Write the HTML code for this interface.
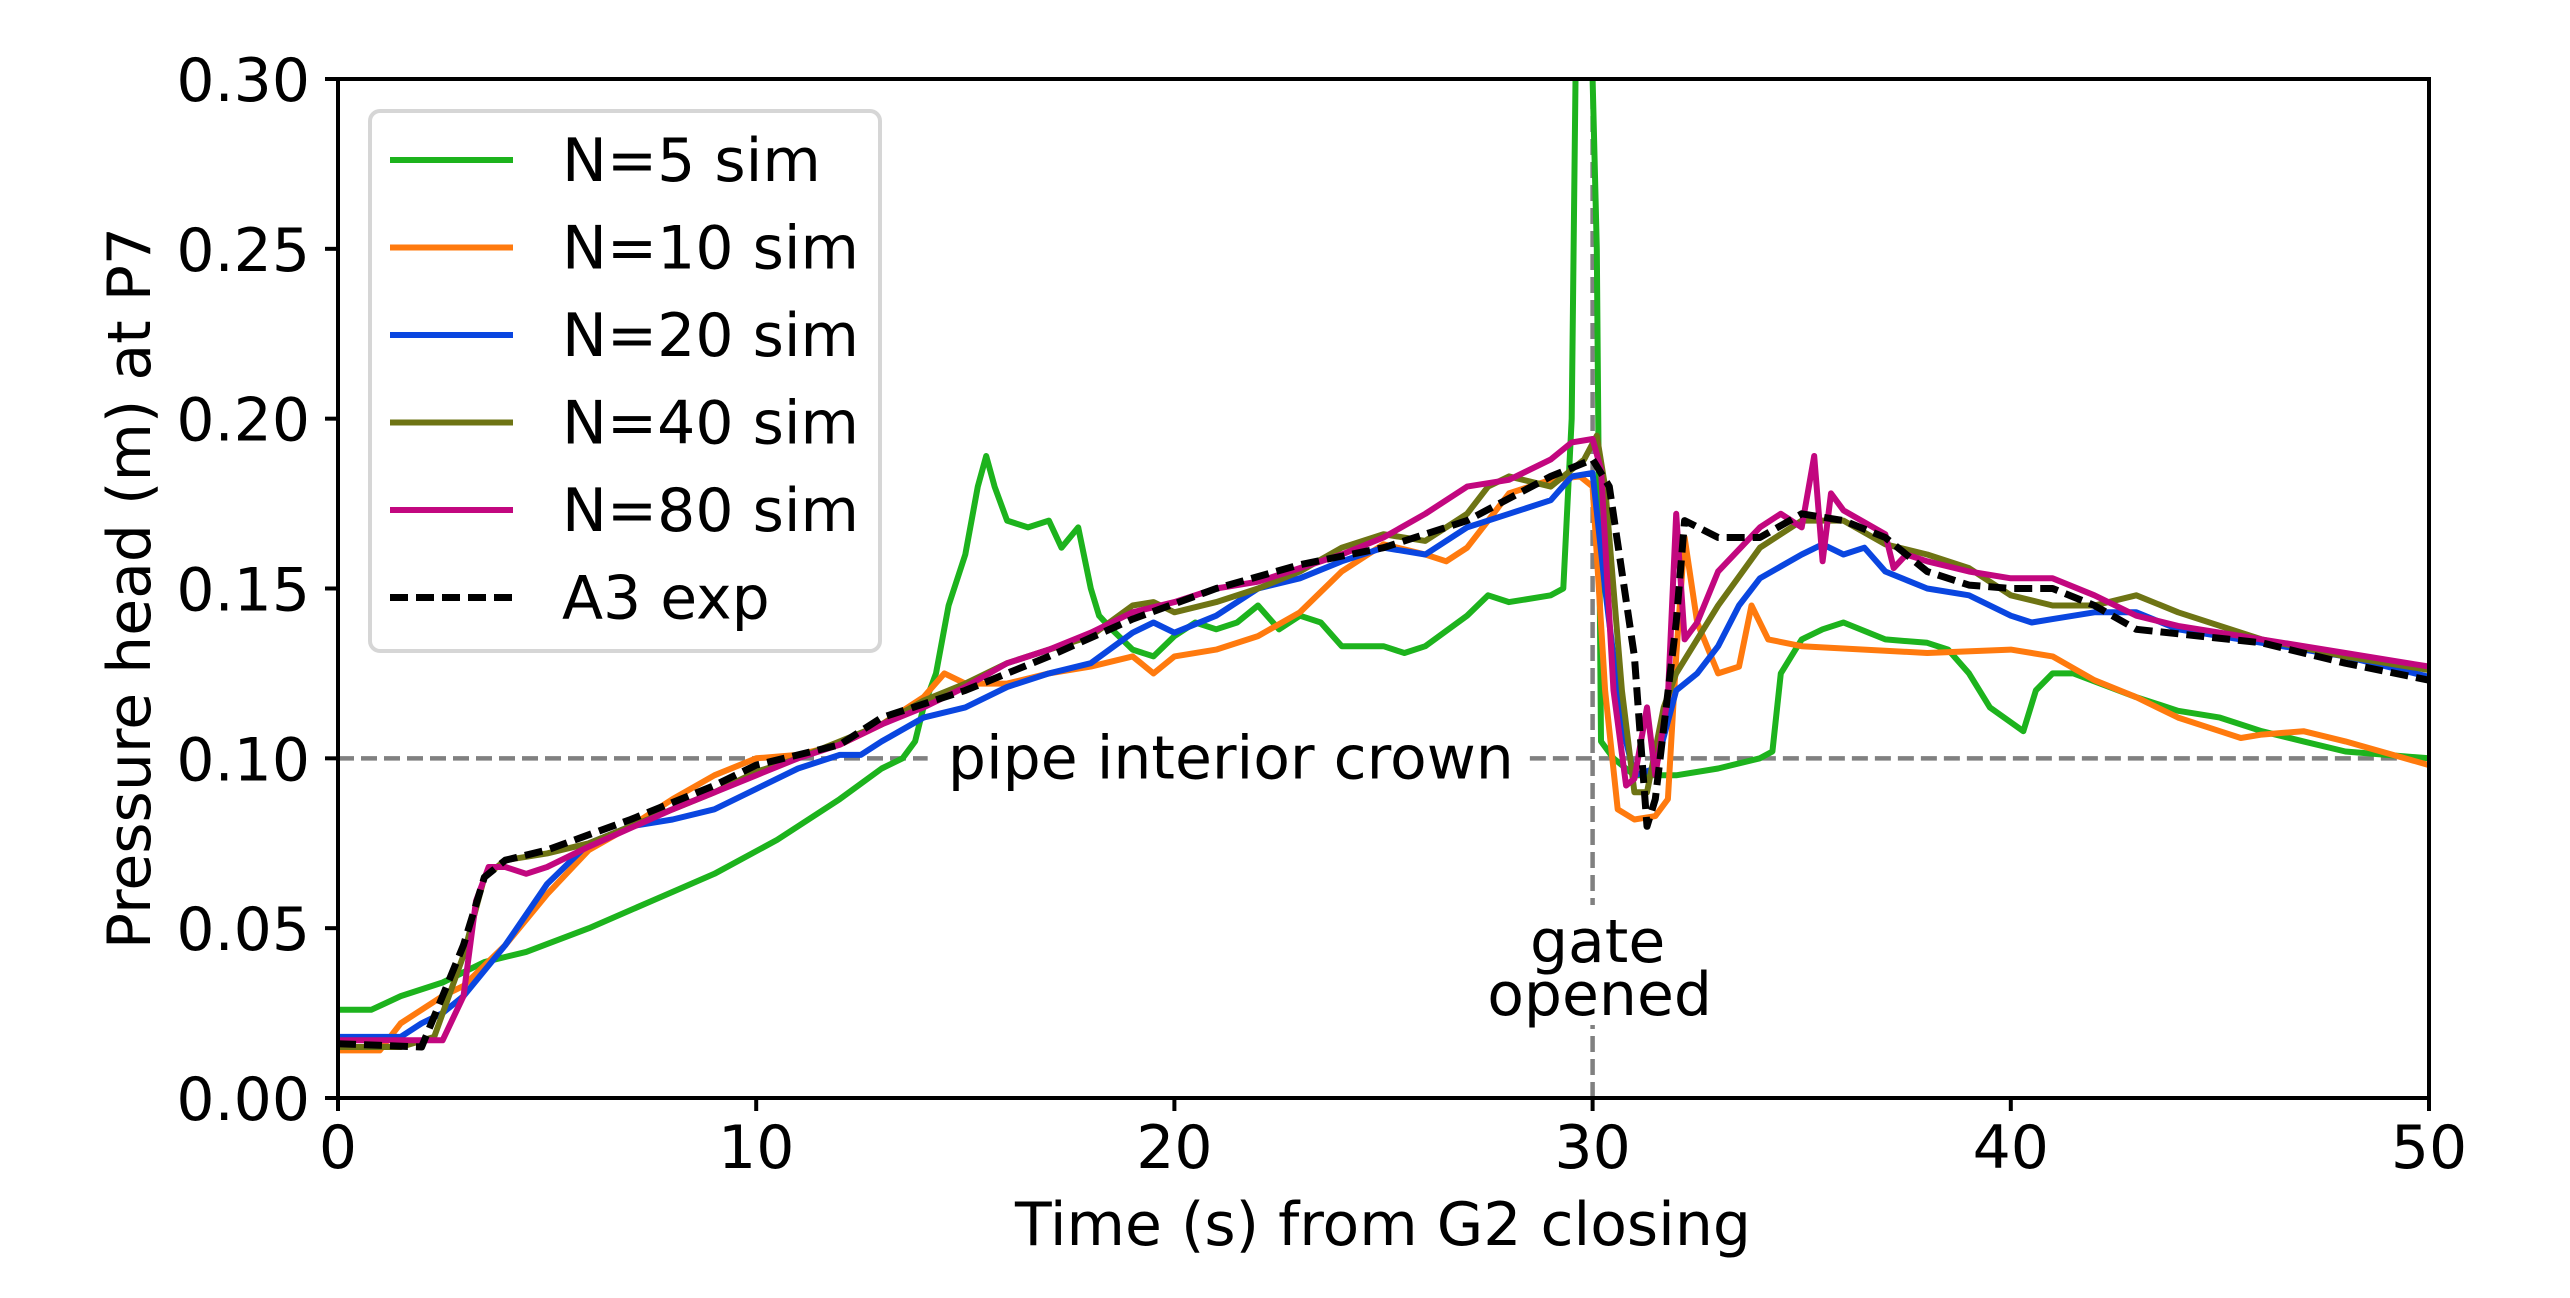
<!DOCTYPE html>
<html><head><meta charset="utf-8"><style>
html,body{margin:0;padding:0;background:#fff;}
svg text{font-family:"DejaVu Sans","Liberation Sans",sans-serif;}
</style></head><body>
<svg id="chart" width="2570" height="1293" viewBox="0 0 2570 1293" xmlns="http://www.w3.org/2000/svg">
<defs><clipPath id="plotclip"><rect x="338" y="79" width="2091" height="1019"/></clipPath></defs>
<g id="grid-refs"></g>
<g id="series" clip-path="url(#plotclip)"></g>
<g id="axes"></g>
<g id="legend"></g>
</svg>
<script>
const xTicks=[0,10,20,30,40,50];
const yTicks=[0.00,0.05,0.10,0.15,0.20,0.25,0.30];
const yTickLabels=["0.00","0.05","0.10","0.15","0.20","0.25","0.30"];
const seriesNames=["N=5 sim","N=10 sim","N=20 sim","N=40 sim","N=80 sim","A3 exp"];
const n5T=[0,0.8,1.5,2.5,3.5,4.5,6,7.5,9,10.5,12,13,13.5,13.8,14,14.3,14.6,15,15.3,15.5,15.7,16,16.5,17,17.3,17.7,18,18.2,18.5,19,19.5,20,20.5,21,21.5,22,22.5,23,23.5,24,25,25.5,26,27,27.5,28,29,29.3,29.5,29.6,29.8,30,30.1,30.2,30.5,31,32,33,34,34.3,34.5,35,35.5,36,37,38,38.5,39,39.5,40.3,40.6,41,41.5,43,44,45,46,47,48,50];
const n5V=[0.026,0.026,0.030,0.034,0.040,0.043,0.050,0.058,0.066,0.076,0.088,0.097,0.100,0.105,0.115,0.125,0.145,0.160,0.180,0.189,0.180,0.170,0.168,0.170,0.162,0.168,0.150,0.142,0.138,0.132,0.130,0.136,0.140,0.138,0.140,0.145,0.138,0.142,0.140,0.133,0.133,0.131,0.133,0.142,0.148,0.146,0.148,0.150,0.200,0.310,0.320,0.300,0.250,0.105,0.100,0.095,0.095,0.097,0.100,0.102,0.125,0.135,0.138,0.140,0.135,0.134,0.132,0.125,0.115,0.108,0.120,0.125,0.125,0.118,0.114,0.112,0.108,0.105,0.102,0.100];
const n10T=[0,1,1.5,2.5,3,4,5,6,7,8,9,10,11,12,13,14,14.5,15,16,17,18,19,19.5,20,21,22,23,24,25,26,26.5,27,27.5,28,29,29.7,30,30.3,30.6,31,31.5,31.8,32,32.2,32.5,33,33.5,33.8,34.2,35,38,40,41,42,43,44,45,45.5,46,47,48,50];
const n10V=[0.014,0.014,0.022,0.030,0.033,0.045,0.060,0.073,0.080,0.088,0.095,0.100,0.101,0.104,0.110,0.118,0.125,0.122,0.122,0.125,0.127,0.130,0.125,0.130,0.132,0.136,0.143,0.155,0.163,0.160,0.158,0.162,0.170,0.178,0.182,0.183,0.180,0.120,0.085,0.082,0.083,0.088,0.130,0.165,0.140,0.125,0.127,0.145,0.135,0.133,0.131,0.132,0.130,0.123,0.118,0.112,0.108,0.106,0.107,0.108,0.105,0.098];
const n20T=[0,1.5,2,2.5,3,4,5,6,7,8,9,10,11,12,12.5,13,14,15,16,17,18,19,19.5,20,21,22,23,24,25,26,27,28,29,29.5,30,30.3,30.7,31,31.5,32,32.5,33,33.5,34,35,35.5,36,36.5,37,38,39,40,40.5,41,42,43,44,46,48,50];
const n20V=[0.018,0.018,0.022,0.025,0.030,0.045,0.063,0.075,0.080,0.082,0.085,0.091,0.097,0.101,0.101,0.105,0.112,0.115,0.121,0.125,0.128,0.137,0.140,0.137,0.142,0.150,0.153,0.158,0.162,0.160,0.168,0.172,0.176,0.183,0.184,0.150,0.110,0.095,0.097,0.120,0.125,0.133,0.145,0.153,0.160,0.163,0.160,0.162,0.155,0.150,0.148,0.142,0.140,0.141,0.143,0.143,0.138,0.134,0.130,0.124];
const n40T=[0,1.5,2.3,3,3.5,4,5,6,8,9,10,11,12,13,14,15,16,17,18,19,19.5,20,21,22,23,24,25,26,27,27.5,28,29,29.8,30.1,30.3,30.7,31,31.3,31.7,32,33,34,35,36,37,38,39,40,41,42,43,44,46,48,50];
const n40V=[0.015,0.015,0.018,0.042,0.065,0.070,0.072,0.075,0.085,0.090,0.096,0.100,0.105,0.110,0.117,0.122,0.128,0.132,0.136,0.145,0.146,0.143,0.146,0.150,0.155,0.162,0.166,0.164,0.172,0.180,0.183,0.180,0.188,0.195,0.180,0.120,0.090,0.090,0.115,0.125,0.145,0.162,0.170,0.170,0.163,0.160,0.156,0.148,0.145,0.145,0.148,0.143,0.135,0.130,0.126];
const n80T=[0,2.5,3,3.3,3.6,4,4.5,5,6,8,9,10,11,12,13,14,15,16,17,18,19,20,21,22,23,24,25,26,27,28,29,29.5,30,30.2,30.5,30.8,31,31.3,31.5,31.8,32,32.2,32.5,33,34,34.5,35,35.3,35.5,35.7,36,37,37.2,37.5,38,39,40,41,42,43,44,46,48,50];
const n80V=[0.017,0.017,0.030,0.058,0.068,0.068,0.066,0.068,0.074,0.085,0.090,0.095,0.100,0.104,0.110,0.115,0.121,0.128,0.132,0.137,0.143,0.146,0.150,0.152,0.156,0.160,0.165,0.172,0.180,0.182,0.188,0.193,0.194,0.185,0.120,0.092,0.094,0.115,0.095,0.118,0.172,0.135,0.140,0.155,0.168,0.172,0.168,0.189,0.158,0.178,0.173,0.166,0.156,0.160,0.158,0.155,0.153,0.153,0.148,0.142,0.139,0.135,0.131,0.127];
const expT=[0,2,2.5,3,3.5,4,5,7,9,10,12,13,15,17,19,21,23,25,27,29,30,30.4,31,31.3,31.5,32,32.2,33,34,35,36,37,38,39,40,41,42,43,46,48,50];
const expV=[0.016,0.015,0.030,0.045,0.065,0.070,0.073,0.082,0.092,0.098,0.104,0.112,0.120,0.130,0.141,0.150,0.157,0.162,0.170,0.183,0.188,0.180,0.130,0.080,0.088,0.140,0.170,0.165,0.165,0.172,0.170,0.165,0.155,0.151,0.150,0.150,0.145,0.138,0.134,0.128,0.123];
const crownLevel=0.10;
const gateTime=30;

const X0=338,X1=2429,Y0=1098,Y1=79;
const xScale=v=>X0+(v-0)/(50-0)*(X1-X0);
const yScale=v=>Y0-(v-0)/(0.30-0)*(Y0-Y1);
const NS="http://www.w3.org/2000/svg";
function mk(tag,attrs,parent){const e=document.createElementNS(NS,tag);for(const k in attrs)e.setAttribute(k,attrs[k]);parent.appendChild(e);return e;}

const refs=document.getElementById('grid-refs');
let h1=mk('line',{x1:xScale(0),x2:xScale(14.1),y1:yScale(crownLevel),y2:yScale(crownLevel),stroke:'#808080','stroke-width':4.5,'stroke-dasharray':'16,7'},refs);


let h2=mk('line',{x1:xScale(28.5),x2:xScale(50),y1:yScale(crownLevel),y2:yScale(crownLevel),stroke:'#808080','stroke-width':4.5,'stroke-dasharray':'16,7'},refs);


let ct=mk('text',{x:xScale(21.35),y:yScale(crownLevel)+20,'font-size':60,'text-anchor':'middle',fill:'#000'},refs);
ct.textContent='pipe interior crown';


let vl=mk('line',{x1:xScale(gateTime),x2:xScale(gateTime),y1:yScale(0),y2:yScale(0.30),stroke:'#808080','stroke-width':4.5,'stroke-dasharray':'16,7'},refs);


let gt=mk('rect',{x:xScale(gateTime)-110,y:905,width:220,height:120,fill:'#fff'},refs);


let g1=mk('text',{x:xScale(gateTime)+5,y:962,'font-size':60,'text-anchor':'middle'},refs);
g1.textContent='gate';


let g2=mk('text',{x:xScale(gateTime)+7,y:1015,'font-size':60,'text-anchor':'middle'},refs);
g2.textContent='opened';



const ser=document.getElementById('series');
const colors=['#1db31d','#ff7a0e','#0a46e0','#6e7414','#c2077f','#000'];
const allT=[n5T,n10T,n20T,n40T,n80T,expT];
const allV=[n5V,n10V,n20V,n40V,n80V,expV];
const seriesIds=['n5','n10','n20','n40','n80','a3-exp'];
for(let i=0;i<6;i++){
  const pts=allT[i].map((t,j)=>xScale(t).toFixed(1)+','+yScale(allV[i][j]).toFixed(1)).join(' ');
  const a={points:pts,fill:'none',stroke:colors[i],'stroke-width':6,'stroke-linejoin':'round'};
  if(i===5){a['stroke-dasharray']='18,8';a['stroke-width']=7;}
  const p=mk('polyline',a,ser);
  
  
}

const ax=document.getElementById('axes');
let fr=mk('rect',{x:X0,y:Y1,width:X1-X0,height:Y0-Y1,fill:'none',stroke:'#000','stroke-width':4},ax);


xTicks.forEach(t=>{
  const x=xScale(t);
  const l=mk('line',{x1:x,x2:x,y1:Y0,y2:Y0+13,stroke:'#000','stroke-width':4},ax);
  
  
  const tx=mk('text',{x:x,y:1168,'font-size':60,'text-anchor':'middle'},ax);
  tx.textContent=String(t);
  
  
});
yTicks.forEach((t,i)=>{
  const y=yScale(t);
  const l=mk('line',{x1:X0-13,x2:X0,y1:y,y2:y,stroke:'#000','stroke-width':4},ax);
  
  
  const tx=mk('text',{x:310,y:y+22,'font-size':60,'text-anchor':'end'},ax);
  tx.textContent=yTickLabels[i];
  
  
});
let xt=mk('text',{x:1383,y:1245,'font-size':60,'text-anchor':'middle'},ax);
xt.textContent='Time (s) from G2 closing';


let yt=mk('text',{x:0,y:0,'font-size':60,'text-anchor':'middle',transform:'translate(150,588) rotate(-90)'},ax);
yt.textContent='Pressure head (m) at P7';



const lg=document.getElementById('legend');
let box=mk('rect',{x:370,y:111,width:510,height:540,rx:10,fill:'#fff','fill-opacity':0.85,stroke:'#d6d6d6','stroke-width':4},lg);


for(let i=0;i<6;i++){
  const y=159+i*87.5;
  const a={x1:390,x2:513,y1:y+1,y2:y+1,stroke:colors[i],'stroke-width':6};
  if(i===5){a['stroke-dasharray']='18,8';a['stroke-width']=7;}
  const l=mk('line',a,lg);
  
  
  const t=mk('text',{x:562,y:y+22,'font-size':60},lg);
  t.textContent=seriesNames[i];
  
  
}
</script>
</body></html>
